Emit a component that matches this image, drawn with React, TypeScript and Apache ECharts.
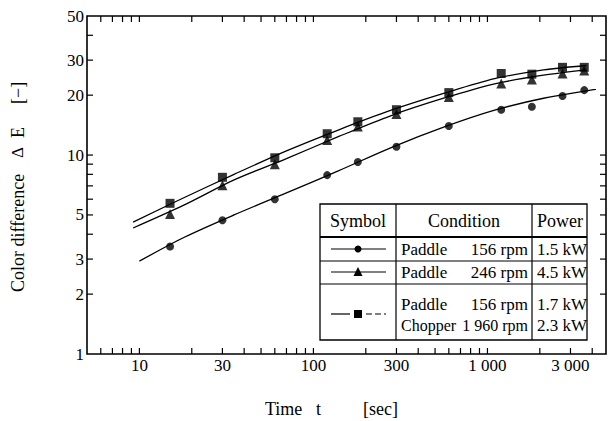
import React, { useEffect, useRef } from "react";
import * as echarts from "echarts";

// ---- data ----
const times = [15, 30, 60, 120, 180, 300, 600, 1200, 1800, 2700, 3600];
const paddle156 = [3.47, 4.7, 6.0, 7.93, 9.22, 11.0, 14.0, 16.9, 17.5, 19.8, 21.2];
const paddle246 = [5.05, 7.06, 8.98, 11.9, 13.9, 16.1, 19.6, 22.9, 24.0, 25.7, 26.6];
const paddleChopper = [5.72, 7.73, 9.69, 12.8, 14.7, 16.9, 20.6, 25.7, 25.5, 27.6, 27.6];

// fitted curves
const fitTimesUpper = [9.2, 18, 35, 70, 140, 280, 560, 1100, 2100, 3700];
const fitPaddleChopper = [4.6, 6.1, 8.0, 10.5, 13.4, 16.8, 20.4, 24.2, 26.8, 28.2];
const fitPaddle246 = [4.3, 5.6, 7.5, 9.6, 12.4, 15.8, 19.3, 22.8, 25.2, 26.8];
const fitTimesLower = [10, 18, 35, 70, 140, 280, 560, 1100, 2100, 4200];
const fitPaddle156 = [2.93, 3.85, 5.0, 6.45, 8.35, 10.9, 13.8, 16.8, 19.3, 21.4];

const xTickValues = [6, 7, 8, 9, 10, 20, 30, 40, 50, 60, 70, 80, 90, 100, 200, 300, 400, 500, 600, 700, 800, 900, 1000, 2000, 3000, 4000];
const xLabelValues = [10, 30, 100, 300, 1000, 3000];
const xLabelTexts = ["10", "30", "100", "300", "1 000", "3 000"];
const yTickValues = [2, 3, 4, 5, 6, 7, 8, 9, 10, 20, 30, 40];
const yLabelValues = [1, 2, 3, 5, 10, 20, 30, 50];
const yLabelTexts = ["1", "2", "3", "5", "10", "20", "30", "50"];

const X_MIN = 5;
const X_MAX = 4800;
const Y_MIN = 1;
const Y_MAX = 50;

const FAMILY = "Liberation Serif";

export default function App() {
  const ref = useRef<HTMLDivElement>(null);
  useEffect(() => {
    if (!ref.current) return;
    const chart = echarts.init(ref.current, undefined, { renderer: "svg" });
    const pair = (xs: number[], ys: number[]) => xs.map((x, i) => [x, ys[i]]);
    const lineStyle = { color: "#000", width: 1.3 };
    const TL = 6;
    const txt = (x: number, y: number, text: string, size: number, align = "left") => ({
      type: "text",
      x,
      y,
      style: { text, fontSize: size, fontFamily: FAMILY, fill: "#000", align, verticalAlign: "middle" },
    });
    const vtxt = (x: number, y: number, text: string, size: number) => ({
      type: "text",
      x,
      y,
      rotation: Math.PI / 2,
      style: { text, fontSize: size, fontFamily: FAMILY, fill: "#000", align: "left", verticalAlign: "top" },
    });

    const option: any = {
      animation: false,
      backgroundColor: "#fff",
      textStyle: { fontFamily: FAMILY },
      grid: {
        left: 87,
        top: 16,
        width: 519,
        height: 338,
        show: true,
        borderColor: "#000",
        borderWidth: 1.6,
        backgroundColor: "transparent",
      },
      xAxis: {
        type: "log",
        min: X_MIN,
        max: X_MAX,
        axisLine: { show: false },
        axisTick: { show: false },
        axisLabel: { show: false },
        splitLine: { show: false },
      },
      yAxis: {
        type: "log",
        min: Y_MIN,
        max: Y_MAX,
        axisLine: { show: false },
        axisTick: { show: false },
        axisLabel: { show: false },
        splitLine: { show: false },
      },
      series: [
        {
          type: "custom",
          silent: true,
          data: xTickValues.map((v) => [v, Y_MIN]),
          renderItem: (p: any, api: any) => {
            const v = api.value(0);
            const b = api.coord([v, Y_MIN]);
            const t = api.coord([v, Y_MAX]);
            return {
              type: "group",
              children: [
                { type: "line", shape: { x1: b[0], y1: b[1], x2: b[0], y2: b[1] - TL }, style: { stroke: "#000", lineWidth: 1.2 } },
                { type: "line", shape: { x1: t[0], y1: t[1], x2: t[0], y2: t[1] + TL }, style: { stroke: "#000", lineWidth: 1.2 } },
              ],
            };
          },
        },
        {
          type: "custom",
          silent: true,
          data: yTickValues.map((v) => [X_MIN, v]),
          renderItem: (p: any, api: any) => {
            const v = api.value(1);
            const l = api.coord([X_MIN, v]);
            const r = api.coord([X_MAX, v]);
            return {
              type: "group",
              children: [
                { type: "line", shape: { x1: l[0], y1: l[1], x2: l[0] + TL, y2: l[1] }, style: { stroke: "#000", lineWidth: 1.2 } },
                { type: "line", shape: { x1: r[0], y1: r[1], x2: r[0] - TL, y2: r[1] }, style: { stroke: "#000", lineWidth: 1.2 } },
              ],
            };
          },
        },
        {
          type: "custom",
          silent: true,
          data: xLabelValues.map((v) => [v, Y_MIN]),
          renderItem: (p: any, api: any) => {
            const c = api.coord([api.value(0), Y_MIN]);
            return {
              type: "text",
              x: c[0],
              y: c[1] + 3,
              style: { text: xLabelTexts[p.dataIndex], fontSize: 17, fontFamily: FAMILY, fill: "#000", align: "center", verticalAlign: "top" },
            };
          },
        },
        {
          type: "custom",
          silent: true,
          data: yLabelValues.map((v) => [X_MIN, v]),
          renderItem: (p: any, api: any) => {
            const c = api.coord([X_MIN, api.value(1)]);
            return {
              type: "text",
              x: c[0] - 3,
              y: c[1],
              style: { text: yLabelTexts[p.dataIndex], fontSize: 17, fontFamily: FAMILY, fill: "#000", align: "right", verticalAlign: "middle" },
            };
          },
        },
        { type: "line", data: pair(fitTimesUpper, fitPaddleChopper), smooth: 0.3, showSymbol: false, lineStyle, silent: true },
        { type: "line", data: pair(fitTimesUpper, fitPaddle246), smooth: 0.3, showSymbol: false, lineStyle, silent: true },
        { type: "line", data: pair(fitTimesLower, fitPaddle156), smooth: 0.3, showSymbol: false, lineStyle, silent: true },
        { type: "scatter", data: pair(times, paddle156), symbol: "circle", symbolSize: 8, itemStyle: { color: "#000" }, silent: true },
        { type: "scatter", data: pair(times, paddle246), symbol: "triangle", symbolSize: 10, itemStyle: { color: "#000" }, silent: true },
        { type: "scatter", data: pair(times, paddleChopper), symbol: "rect", symbolSize: 9, itemStyle: { color: "#000" }, silent: true },
      ],
      graphic: [
        txt(265, 409, "Time", 18),
        txt(316, 409, "t", 18),
        txt(363, 409, "[sec]", 18),
        vtxt(9, 292, "Color difference", 18),
        vtxt(9, 158, "Δ", 17),
        vtxt(9, 138, "E", 18),
        vtxt(9, 104, "[−]", 18),
        {
          type: "group",
          z: 100,
          children: [
            { type: "rect", shape: { x: 320, y: 204, width: 267, height: 136 }, style: { fill: "#fff", stroke: "#000", lineWidth: 1.3 } },
            { type: "line", shape: { x1: 320, y1: 237, x2: 587, y2: 237 }, style: { stroke: "#000", lineWidth: 2 } },
            { type: "line", shape: { x1: 320, y1: 261, x2: 587, y2: 261 }, style: { stroke: "#000", lineWidth: 1.2 } },
            { type: "line", shape: { x1: 320, y1: 284, x2: 587, y2: 284 }, style: { stroke: "#000", lineWidth: 1.2 } },
            { type: "line", shape: { x1: 396, y1: 204, x2: 396, y2: 340 }, style: { stroke: "#000", lineWidth: 1.2 } },
            { type: "line", shape: { x1: 532, y1: 204, x2: 532, y2: 340 }, style: { stroke: "#000", lineWidth: 1.2 } },
            txt(358, 221, "Symbol", 18, "center"),
            txt(464, 221, "Condition", 18, "center"),
            txt(560, 221, "Power", 18, "center"),
            { type: "line", shape: { x1: 331, y1: 249, x2: 386, y2: 249 }, style: { stroke: "#000", lineWidth: 1.2 } },
            { type: "circle", shape: { cx: 358, cy: 249, r: 3.5 }, style: { fill: "#000" } },
            txt(401, 249, "Paddle", 17),
            txt(528, 249, "156 rpm", 17, "right"),
            txt(537, 249, "1.5 kW", 17),
            { type: "line", shape: { x1: 331, y1: 272, x2: 386, y2: 272 }, style: { stroke: "#000", lineWidth: 1.2 } },
            { type: "polygon", shape: { points: [[358, 267], [353.5, 276], [362.5, 276]] }, style: { fill: "#000" } },
            txt(401, 272, "Paddle", 17),
            txt(528, 272, "246 rpm", 17, "right"),
            txt(537, 272, "4.5 kW", 17),
            { type: "line", shape: { x1: 331, y1: 314, x2: 350, y2: 314 }, style: { stroke: "#000", lineWidth: 1.2 } },
            { type: "line", shape: { x1: 366, y1: 314, x2: 386, y2: 314 }, style: { stroke: "#000", lineWidth: 1.2, lineDash: [6, 3] } },
            { type: "rect", shape: { x: 354, y: 310, width: 8, height: 8 }, style: { fill: "#000" } },
            txt(401, 304, "Paddle", 17),
            txt(528, 304, "156 rpm", 17, "right"),
            txt(537, 304, "1.7 kW", 17),
            txt(401, 325, "Chopper", 16),
            txt(528, 325, "1 960 rpm", 16, "right"),
            txt(537, 325, "2.3 kW", 17),
          ],
        },
      ],
    };
    chart.setOption(option);
    return () => chart.dispose();
  }, []);
  return <div ref={ref} style={{ position: "absolute", left: 0, top: 0, width: 608, height: 421 }} />;
}
